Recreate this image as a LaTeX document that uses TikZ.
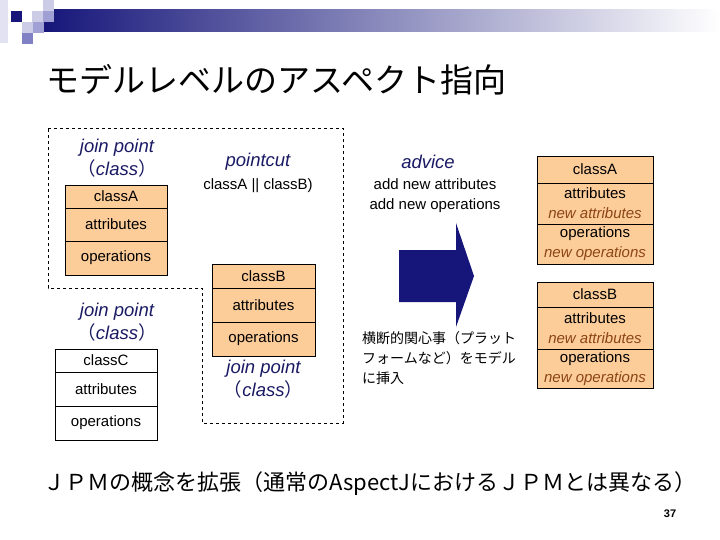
\documentclass[tikz,border=0pt]{standalone}
\usepackage{fontspec}
\setmainfont{Liberation Sans}
\newfontfamily\jp{Noto Sans CJK JP}
\usepackage{tikz}
\usetikzlibrary{positioning,shapes}
\definecolor{peach}{RGB}{252,204,153}
\definecolor{navy}{RGB}{22,22,122}
\definecolor{labelblue}{RGB}{26,26,100}
\definecolor{newbrown}{RGB}{140,70,20}
\definecolor{lav1}{RGB}{226,226,242}
\definecolor{lav2}{RGB}{204,204,230}
\definecolor{lav3}{RGB}{160,160,212}
\definecolor{lav4}{RGB}{128,128,196}
\tikzset{
	part/.style = {draw, fill=peach, inner sep=0pt, outer sep=0pt, line width=0.8pt, align=center, font=\fontsize{15}{20}\selectfont},
	white part/.style = {part, fill=white},
	jlabel/.style = {align=center, text=labelblue, font=\fontsize{18.5}{23}\selectfont\itshape},
	txt/.style = {align=center, font=\fontsize{15}{20}\selectfont}
}
\newcommand{\newitem}[1]{\textcolor{newbrown}{\itshape #1}}

\begin{document}
\begin{tikzpicture}[x=1pt,y=-1pt]
\useasboundingbox (0,0) rectangle (720,540);
% header
\shade[left color=navy, right color=white] (43,10) rectangle (720,32);
\fill[lav1] (0,0) rectangle (8,43);
\fill[navy] (11,11) rectangle (22,22);
\fill[lav2] (32,11) rectangle (43,22);
\fill[lav2] (43,0) rectangle (54,11);
\fill[lav3] (43,11) rectangle (54,22);
\fill[lav2] (22,22) rectangle (33,33);
\fill[lav3] (33,22) rectangle (44,33);
\fill[lav4] (22,33) rectangle (33,44);
\node[anchor=west, font=\jp\fontsize{33}{36}\selectfont] (title) at (43,80) {モデルレベルのアスペクト指向};

% pointcut area
\draw[dashed, line width=0.8pt] (48,128) -- (343,128) -- (343,423) -- (202,423) -- (202,288) -- (48,288) -- cycle;

% left classA
\node[jlabel] (jpA) at (117,158) {join point\\{\upshape\jp （}class{\upshape\jp ）}};
\node[part, minimum width=102pt, minimum height=23pt, anchor=north west] (classA) at (65,185) {classA};
\node[part, minimum width=102pt, minimum height=33pt, below=0pt of classA] (attrA) {attributes};
\node[part, minimum width=102pt, minimum height=34pt, below=0pt of attrA] (operA) {operations};

% pointcut
\node[jlabel] (pointcut) at (258,162) {pointcut};
\node[txt] (pcExpr) at (258,186) {classA || classB)};

% middle classB
\node[part, minimum width=103pt, minimum height=24pt, anchor=north west] (classB) at (212,264) {classB};
\node[part, minimum width=103pt, minimum height=34pt, below=0pt of classB] (attrB) {attributes};
\node[part, minimum width=103pt, minimum height=34pt, below=0pt of attrB] (operB) {operations};
\node[jlabel, below=1pt of operB] (jpB) {join point\\{\upshape\jp （}class{\upshape\jp ）}};

% classC
\node[jlabel] (jpC) at (117,322) {join point\\{\upshape\jp （}class{\upshape\jp ）}};
\node[white part, minimum width=102pt, minimum height=23pt, anchor=north west] (classC) at (55,349) {classC};
\node[white part, minimum width=102pt, minimum height=34pt, below=0pt of classC] (attrC) {attributes};
\node[white part, minimum width=102pt, minimum height=34pt, below=0pt of attrC] (operC) {operations};

% advice
\node[jlabel] (advice) at (428,162) {advice};
\node[txt] (adviceText) at (435,196) {add new attributes\\add new operations};
\fill[navy] (399,250) -- (456,250) -- (456,223) -- (474,276) -- (456,327) -- (456,302) -- (399,302) -- cycle;
\node[anchor=north west, align=left, inner sep=0pt, font=\jp\fontsize{14}{20}\selectfont] (weave) at (362,331) {横断的関心事（プラット\\フォームなど）をモデル\\に挿入};

% woven classes
\node[part, minimum width=116pt, minimum height=27pt, anchor=north west] (wovenA) at (537,156) {classA};
\node[part, minimum width=116pt, minimum height=41pt, below=0pt of wovenA] (wovenAttrA) {attributes\\\newitem{new attributes}};
\node[part, minimum width=116pt, minimum height=40pt, below=0pt of wovenAttrA] (wovenOperA) {operations\\\newitem{new operations}};
\node[part, minimum width=116pt, minimum height=25pt, anchor=north west] (wovenB) at (537,282) {classB};
\node[part, minimum width=116pt, minimum height=42pt, below=0pt of wovenB] (wovenAttrB) {attributes\\\newitem{new attributes}};
\node[part, minimum width=116pt, minimum height=39pt, below=0pt of wovenAttrB] (wovenOperB) {operations\\\newitem{new operations}};

% footer
\node[anchor=west, font=\jp\fontsize{22}{24}\selectfont] (note) at (40,484) {ＪＰＭの概念を拡張（通常のAspectJにおけるＪＰＭとは異なる）};
\node[font=\bfseries\fontsize{11}{12}\selectfont] (page) at (670,514) {37};
\end{tikzpicture}
\end{document}
